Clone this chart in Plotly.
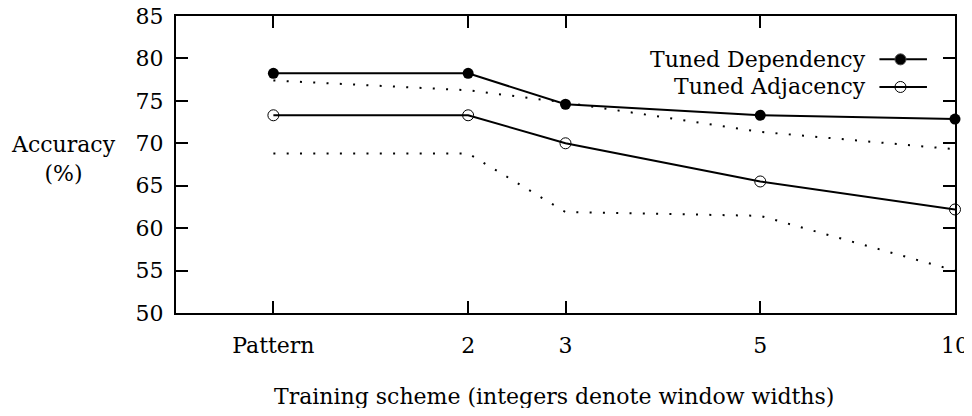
import plotly.graph_objects as go

# ---- data ----
categories = ["Pattern", "2", "3", "5", "10"]
cat_positions = [1, 3, 4, 6, 8]
tuned_dependency = [78.25, 78.25, 74.6, 73.3, 72.85]
tuned_adjacency = [73.3, 73.3, 70.0, 65.5, 62.2]
dotted_upper = [77.4, 76.25, 74.8, 71.35, 69.3]
dotted_lower = [68.8, 68.8, 61.9, 61.45, 55.0]
y_ticks = [50, 55, 60, 65, 70, 75, 80, 85]

FONT = "DejaVu Serif"
FS = 22
DOT = "2px,11.3px"

fig = go.Figure()

for vals in (dotted_upper, dotted_lower):
    fig.add_trace(go.Scatter(
        x=cat_positions, y=vals, mode="lines",
        line=dict(color="black", width=2, dash=DOT),
        showlegend=False, hoverinfo="skip", cliponaxis=False))

fig.add_trace(go.Scatter(
    x=cat_positions, y=tuned_dependency, mode="lines+markers",
    name="Tuned Dependency",
    line=dict(color="black", width=2),
    marker=dict(symbol="circle", size=11, color="black"),
    showlegend=False, cliponaxis=False))

fig.add_trace(go.Scatter(
    x=cat_positions, y=tuned_adjacency, mode="lines+markers",
    name="Tuned Adjacency",
    line=dict(color="black", width=2),
    marker=dict(symbol="circle-open", size=11, color="black", line=dict(width=1)),
    showlegend=False, cliponaxis=False))

# ---- manual legend (symbols to the right of the text, like the original) ----
legend_rows = [("Tuned Dependency", "circle", 0.854), ("Tuned Adjacency", "circle-open", 0.761)]
for label, sym, yy in legend_rows:
    fig.add_trace(go.Scatter(
        x=[0.903, 0.964], y=[yy, yy], mode="lines", xaxis="x2", yaxis="y2",
        line=dict(color="black", width=2), showlegend=False, hoverinfo="skip"))
    fig.add_trace(go.Scatter(
        x=[0.930], y=[yy], mode="markers", xaxis="x2", yaxis="y2",
        marker=dict(symbol=sym, size=11, color="black", line=dict(width=1)),
        showlegend=False, hoverinfo="skip"))
    fig.add_annotation(x=0.888, y=yy, xref="paper", yref="paper", text=label,
                       showarrow=False, xanchor="right", yanchor="middle",
                       font=dict(family=FONT, size=FS, color="black"))

# axis titles
fig.add_annotation(x=-0.145, y=0.52, xref="paper", yref="paper",
                   text="Accuracy<br>(%)", showarrow=False, xanchor="center", yanchor="middle",
                   align="center", font=dict(family=FONT, size=FS, color="black"))
fig.add_annotation(x=0.485, y=-0.28, xref="paper", yref="paper",
                   text="Training scheme (integers denote window widths)", showarrow=False,
                   xanchor="center", yanchor="middle",
                   font=dict(family=FONT, size=FS, color="black"))

axis_common = dict(showline=True, linecolor="black", linewidth=2, mirror="ticks",
                   ticks="inside", ticklen=12, tickwidth=2, tickcolor="black",
                   showgrid=False, zeroline=False, automargin=False,
                   ticklabeloverflow="allow",
                   tickfont=dict(family=FONT, size=FS, color="black"))

# the page body adds an 8px offset; the figure is sized so the page does not scroll
fig.update_layout(
    template="none",
    width=964, height=400,
    margin=dict(l=168, r=17, t=8, b=95, autoexpand=False),
    paper_bgcolor="white", plot_bgcolor="white",
    font=dict(family=FONT, size=FS, color="black"),
    xaxis=dict(range=[0, 8], tickmode="array", tickvals=cat_positions, ticktext=categories,
               ticklabelstandoff=12, **axis_common),
    yaxis=dict(range=[50, 85], tickmode="array", tickvals=y_ticks,
               ticklabelstandoff=6, **axis_common),
    xaxis2=dict(overlaying="x", range=[0, 1], visible=False, fixedrange=True),
    yaxis2=dict(overlaying="y", range=[0, 1], visible=False, fixedrange=True),
    showlegend=False,
)

fig.write_html("out.html")
